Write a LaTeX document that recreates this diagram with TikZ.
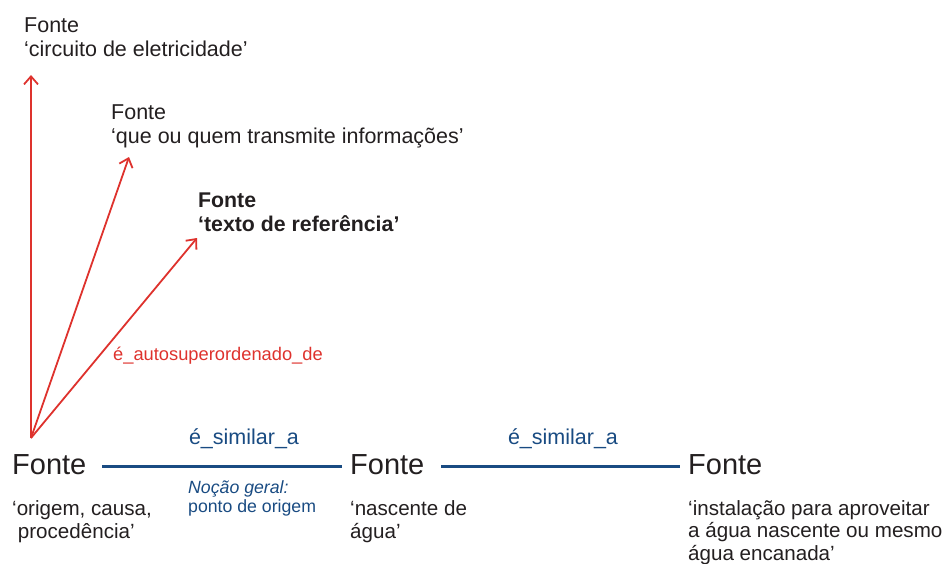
\documentclass[tikz,border=0pt]{standalone}
\usepackage{fontspec}
\setmainfont{Liberation Sans}
\usetikzlibrary{arrows.meta}
\definecolor{txt}{RGB}{35,31,32}
\definecolor{redl}{RGB}{222,50,45}
\definecolor{bluel}{RGB}{25,75,130}
\tikzset{
  sense/.style={anchor=base west, inner sep=0pt, align=left, text=txt, font=\fontsize{21.5}{24}\selectfont},
  word/.style={anchor=base west, inner sep=0pt, text=txt, font=\fontsize{29}{30}\selectfont},
  gloss/.style={anchor=base west, inner sep=0pt, align=left, text=txt, font=\fontsize{20.6}{22.8}\selectfont},
  rel/.style={inner sep=0pt, font=\fontsize{18.3}{20}\selectfont},
  redarrow/.style={draw=redl, line width=1.8pt, -{Straight Barb[length=8pt,width=14pt,line width=1.8pt]}},
  blueline/.style={draw=bluel, line width=3pt}
}
\begin{document}
\begin{tikzpicture}[x=1pt,y=-1pt]
\useasboundingbox (0,0) rectangle (948,563);
% upper senses (base = last line)
\node[sense] (s1) at (24,56) {Fonte\\‘circuito de eletricidade’};
\node[sense] (s2) at (111,143) {Fonte\\‘que ou quem transmite informações’};
\node[sense, font=\bfseries\fontsize{21.3}{24}\selectfont] (s3) at (198,231) {Fonte\\‘texto de referência’};
% bottom words
\node[word] (f1) at (12,474) {Fonte};
\node[word] (f2) at (350,474) {Fonte};
\node[word] (f3) at (688,474) {Fonte};
\node[gloss] (g1) at (12,538) {‘origem, causa,\\\ procedência’};
\node[gloss] (g2) at (350,538) {‘nascente de\\água’};
\node[gloss, font=\fontsize{20.6}{22.5}\selectfont] (g3) at (688,560) {‘instalação para aproveitar\\a água nascente ou mesmo\\água encanada’};
% arrows
\coordinate (o) at (31,438);
\coordinate (t1) at (31,75);
\coordinate (t2) at (129,157);
\coordinate (t3) at (197,238);
\draw[redarrow] (o) -- (t1);
\draw[redarrow] (o) -- (t2);
\draw[redarrow] (o) -- (t3);
\node[rel, text=redl, anchor=base west] (lab) at (113,360) {é\_autosuperordenado\_de};
% similarity lines
\coordinate (a1) at (102,466);
\coordinate (b1) at (342,466);
\coordinate (a2) at (441,466);
\coordinate (b2) at (680,466);
\draw[blueline] (a1) -- (b1);
\draw[blueline] (a2) -- (b2);
\node[rel, text=bluel, anchor=base, font=\fontsize{21.5}{23}\selectfont] (r1) at (244,444) {é\_similar\_a};
\node[rel, text=bluel, anchor=base, font=\fontsize{21.5}{23}\selectfont] (r2) at (563,444) {é\_similar\_a};
\node[rel, text=bluel, anchor=base west, align=left, font=\fontsize{17.7}{19}\selectfont] (n1) at (188,512) {\textit{Noção geral:}\\ponto de origem};
\end{tikzpicture}
\end{document}
